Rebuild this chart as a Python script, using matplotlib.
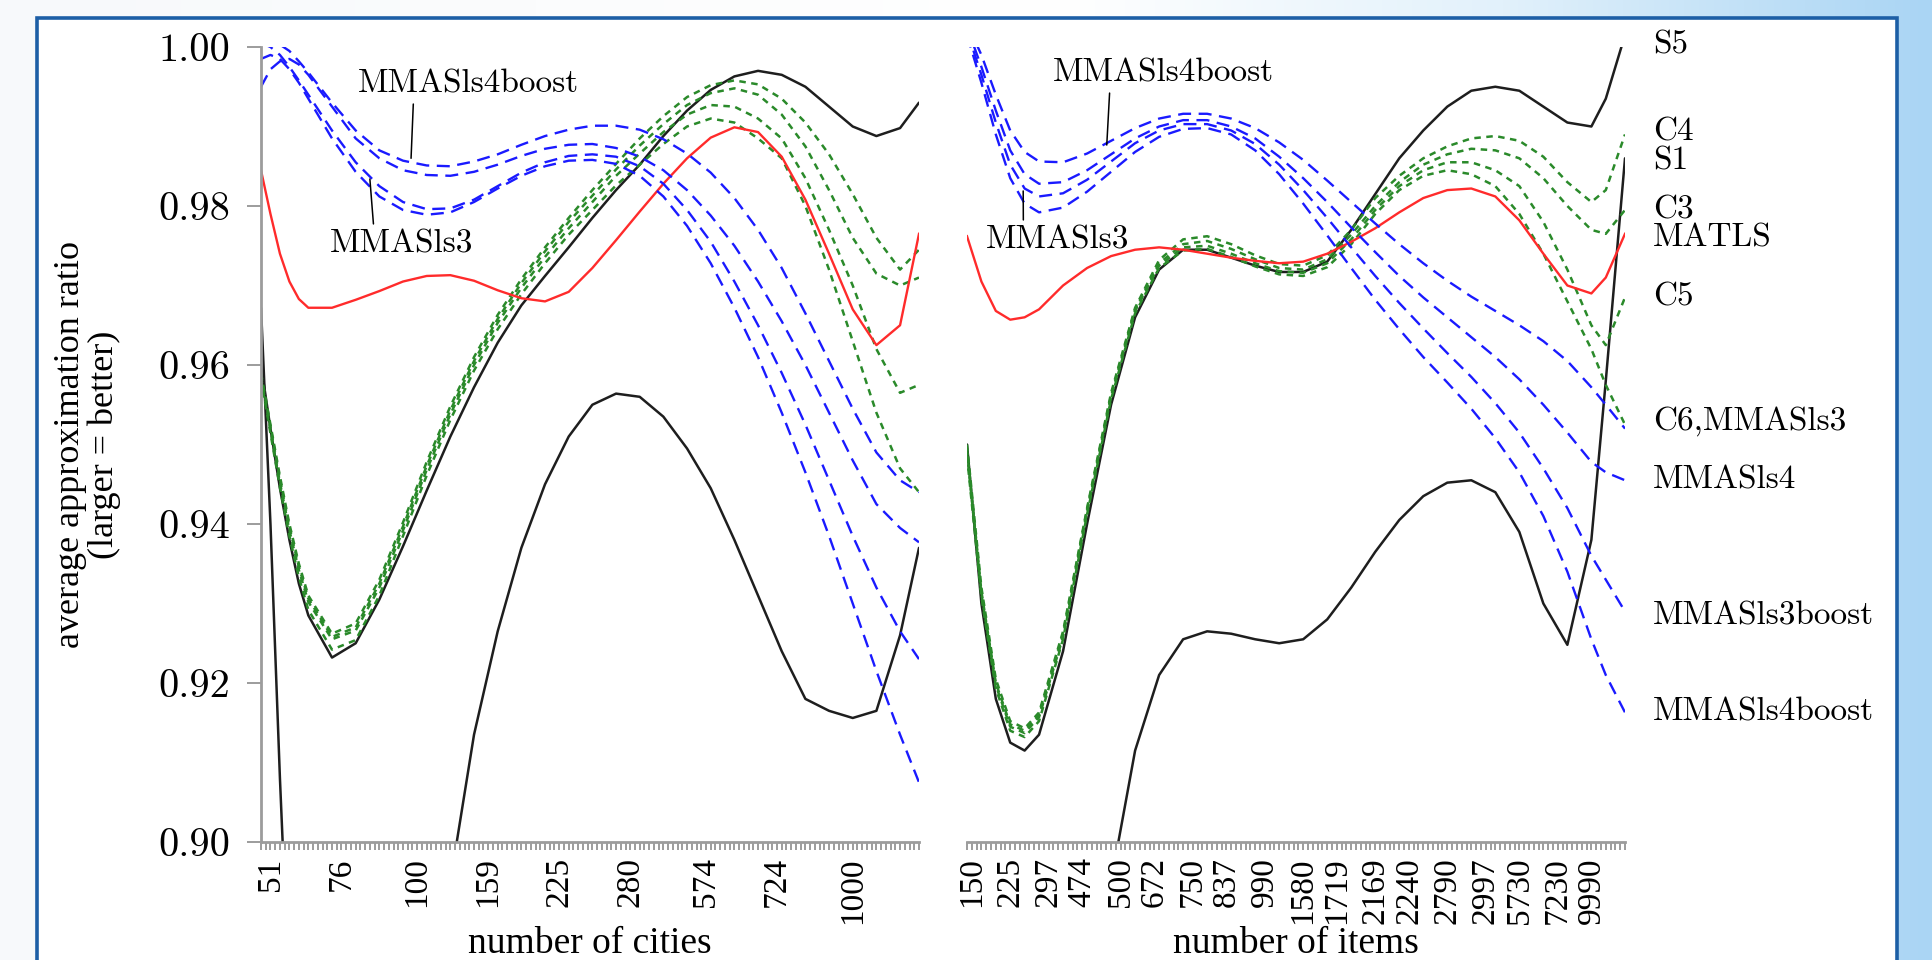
import numpy as np
import matplotlib
matplotlib.use("Agg")
import matplotlib.pyplot as plt
from matplotlib.colors import LinearSegmentedColormap
from matplotlib.patches import Rectangle

# ---------------- data: left panel (TSP, instance index) ----------------
cities_x = [0, 2, 4, 6, 8, 10, 15, 20, 25, 30, 35, 40, 45, 50, 55, 60, 65, 70,
            75, 80, 85, 90, 95, 100, 105, 110, 115, 120, 125, 130, 135, 139]
cities_ticks = [2, 17, 33, 48, 63, 78, 94, 109, 125]
cities_labels = ["51", "76", "100", "159", "225", "280", "574", "724", "1000"]

tsp_S5 = [0.9600, 0.9520, 0.9445, 0.9380, 0.9325, 0.9285, 0.9232, 0.9250, 0.9305,
          0.9372, 0.9442, 0.9510, 0.9572, 0.9628, 0.9675, 0.9712, 0.9748, 0.9785,
          0.9820, 0.9852, 0.9888, 0.9920, 0.9946, 0.9963, 0.9970, 0.9965, 0.9950,
          0.9925, 0.9900, 0.9888, 0.9898, 0.9930]
tsp_S1 = [0.9672, 0.9400, 0.9080, 0.8800, 0.8600, 0.8450, 0.8300, 0.8200, 0.8250,
          0.8450, 0.8700, 0.8950, 0.9135, 0.9265, 0.9370, 0.9450, 0.9510, 0.9550,
          0.9564, 0.9560, 0.9535, 0.9495, 0.9445, 0.9380, 0.9310, 0.9240, 0.9180,
          0.9165, 0.9156, 0.9165, 0.9260, 0.9370]
tsp_C = {
    "C4": [0.9590, 0.9525, 0.9460, 0.9400, 0.9350, 0.9310, 0.9262, 0.9275, 0.9330,
           0.9402, 0.9478, 0.9548, 0.9610, 0.9663, 0.9708, 0.9748, 0.9785, 0.9820,
           0.9853, 0.9885, 0.9913, 0.9937, 0.9952, 0.9958, 0.9953, 0.9935, 0.9905,
           0.9865, 0.9815, 0.9760, 0.9720, 0.9745],
    "C3": [0.9588, 0.9522, 0.9456, 0.9396, 0.9346, 0.9306, 0.9258, 0.9270, 0.9325,
           0.9397, 0.9473, 0.9543, 0.9605, 0.9658, 0.9703, 0.9743, 0.9780, 0.9813,
           0.9846, 0.9876, 0.9903, 0.9927, 0.9942, 0.9948, 0.9940, 0.9915, 0.9875,
           0.9820, 0.9760, 0.9715, 0.9700, 0.9710],
    "C5": [0.9585, 0.9518, 0.9452, 0.9392, 0.9342, 0.9302, 0.9255, 0.9266, 0.9320,
           0.9392, 0.9468, 0.9538, 0.9600, 0.9653, 0.9697, 0.9736, 0.9772, 0.9805,
           0.9838, 0.9866, 0.9893, 0.9915, 0.9927, 0.9925, 0.9910, 0.9885, 0.9835,
           0.9770, 0.9700, 0.9620, 0.9565, 0.9575],
    "C6": [0.9582, 0.9514, 0.9446, 0.9385, 0.9333, 0.9292, 0.9242, 0.9254, 0.9310,
           0.9385, 0.9461, 0.9531, 0.9593, 0.9645, 0.9689, 0.9728, 0.9764, 0.9795,
           0.9826, 0.9852, 0.9878, 0.9900, 0.9910, 0.9905, 0.9885, 0.9860, 0.9800,
           0.9720, 0.9630, 0.9540, 0.9470, 0.9440],
}
tsp_MATLS = [0.9845, 0.9790, 0.9740, 0.9705, 0.9683, 0.9672, 0.9672, 0.9682, 0.9693,
             0.9705, 0.9712, 0.9713, 0.9706, 0.9694, 0.9684, 0.9680, 0.9692, 0.9722,
             0.9757, 0.9793, 0.9828, 0.9860, 0.9886, 0.9899, 0.9893, 0.9862, 0.9808,
             0.9740, 0.9670, 0.9625, 0.9650, 0.9765]
tsp_MMAS = {
    "MMASls3": [1.0005, 1.0008, 1.0003, 0.9995, 0.9982, 0.9968, 0.9930, 0.9895, 0.9870,
                0.9857, 0.9851, 0.9850, 0.9856, 0.9865, 0.9877, 0.9888, 0.9896, 0.9901,
                0.9901, 0.9896, 0.9884, 0.9866, 0.9842, 0.9810, 0.9770, 0.9722, 0.9665,
                0.9605, 0.9545, 0.9490, 0.9455, 0.9440],
    "MMASls4": [0.9950, 0.9972, 0.9982, 0.9985, 0.9978, 0.9965, 0.9925, 0.9885, 0.9860,
                0.9845, 0.9839, 0.9838, 0.9843, 0.9852, 0.9863, 0.9872, 0.9877, 0.9878,
                0.9873, 0.9862, 0.9845, 0.9820, 0.9788, 0.9750, 0.9705, 0.9655, 0.9600,
                0.9540, 0.9480, 0.9425, 0.9395, 0.9377],
    "MMASls3boost": [1.0005, 1.0000, 0.9990, 0.9975, 0.9958, 0.9940, 0.9895, 0.9855, 0.9825,
                     0.9805, 0.9796, 0.9797, 0.9808, 0.9825, 0.9842, 0.9855, 0.9863, 0.9865,
                     0.9862, 0.9850, 0.9828, 0.9795, 0.9755, 0.9705, 0.9650, 0.9590, 0.9525,
                     0.9455, 0.9385, 0.9320, 0.9265, 0.9230],
    "MMASls4boost": [0.9985, 0.9990, 0.9985, 0.9972, 0.9955, 0.9935, 0.9885, 0.9843, 0.9812,
                     0.9795, 0.9789, 0.9792, 0.9805, 0.9822, 0.9838, 0.9850, 0.9857, 0.9858,
                     0.9853, 0.9838, 0.9812, 0.9775, 0.9728, 0.9672, 0.9610, 0.9540, 0.9465,
                     0.9385, 0.9300, 0.9215, 0.9135, 0.9075],
}

# ---------------- data: right panel (knapsack, instance index) ----------------
items_x = [0, 3, 6, 9, 12, 15, 20, 25, 30, 35, 40, 45, 50, 55, 60, 65, 70, 75, 80,
           85, 90, 95, 100, 105, 110, 115, 120, 125, 130, 133, 137]
items_ticks = [1, 9, 17, 24, 32, 39, 47, 54, 62, 70, 77, 85, 92, 100, 108, 115, 123, 130]
items_labels = ["150", "225", "297", "474", "500", "672", "750", "837", "990", "1580",
                "1719", "2169", "2240", "2790", "2997", "5730", "7230", "9990"]

kp_S5 = [0.9500, 0.9300, 0.9180, 0.9125, 0.9115, 0.9135, 0.9240, 0.9400, 0.9550, 0.9660,
         0.9720, 0.9745, 0.9745, 0.9735, 0.9725, 0.9717, 0.9717, 0.9730, 0.9770, 0.9815,
         0.9860, 0.9895, 0.9925, 0.9945, 0.9950, 0.9945, 0.9925, 0.9905, 0.9900, 0.9935,
         1.0015]
kp_S1 = [0.8000, 0.8100, 0.8200, 0.8300, 0.8400, 0.8500, 0.8650, 0.8800, 0.8950, 0.9115,
         0.9210, 0.9255, 0.9265, 0.9262, 0.9255, 0.9250, 0.9255, 0.9280, 0.9320, 0.9365,
         0.9405, 0.9435, 0.9452, 0.9455, 0.9440, 0.9390, 0.9300, 0.9248, 0.9380, 0.9580,
         0.9860]
kp_C = {
    "C4": [0.9500, 0.9320, 0.9205, 0.9152, 0.9143, 0.9163, 0.9265, 0.9420, 0.9565, 0.9672,
           0.9732, 0.9758, 0.9762, 0.9752, 0.9738, 0.9727, 0.9725, 0.9738, 0.9770, 0.9810,
           0.9838, 0.9860, 0.9875, 0.9885, 0.9888, 0.9882, 0.9862, 0.9830, 0.9805, 0.9820,
           0.9890],
    "C3": [0.9495, 0.9315, 0.9200, 0.9148, 0.9140, 0.9160, 0.9262, 0.9418, 0.9562, 0.9670,
           0.9728, 0.9752, 0.9756, 0.9746, 0.9733, 0.9722, 0.9720, 0.9733, 0.9764, 0.9800,
           0.9830, 0.9852, 0.9865, 0.9872, 0.9870, 0.9860, 0.9835, 0.9800, 0.9770, 0.9765,
           0.9795],
    "C5": [0.9490, 0.9312, 0.9197, 0.9145, 0.9137, 0.9157, 0.9258, 0.9415, 0.9560, 0.9668,
           0.9725, 0.9748, 0.9750, 0.9740, 0.9728, 0.9718, 0.9716, 0.9728, 0.9758, 0.9795,
           0.9825, 0.9845, 0.9855, 0.9855, 0.9845, 0.9825, 0.9780, 0.9720, 0.9650, 0.9625,
           0.9685],
    "C6": [0.9485, 0.9308, 0.9193, 0.9140, 0.9132, 0.9152, 0.9255, 0.9412, 0.9557, 0.9665,
           0.9722, 0.9744, 0.9746, 0.9736, 0.9724, 0.9714, 0.9712, 0.9723, 0.9752, 0.9790,
           0.9820, 0.9838, 0.9845, 0.9840, 0.9825, 0.9790, 0.9740, 0.9680, 0.9620, 0.9575,
           0.9525],
}
kp_MATLS = [0.9762, 0.9705, 0.9668, 0.9657, 0.9660, 0.9670, 0.9700, 0.9722, 0.9737, 0.9745,
            0.9748, 0.9745, 0.9740, 0.9735, 0.9731, 0.9728, 0.9730, 0.9740, 0.9755, 0.9772,
            0.9792, 0.9810, 0.9820, 0.9822, 0.9812, 0.9782, 0.9740, 0.9700, 0.9690, 0.9710,
            0.9765]
kp_MMAS = {
    "MMASls3": [1.0030, 0.9990, 0.9940, 0.9895, 0.9868, 0.9856, 0.9855, 0.9866, 0.9882, 0.9898,
                0.9910, 0.9916, 0.9916, 0.9910, 0.9898, 0.9880, 0.9858, 0.9832, 0.9805, 0.9778,
                0.9752, 0.9728, 0.9706, 0.9686, 0.9668, 0.9650, 0.9630, 0.9605, 0.9572, 0.9550,
                0.9520],
    "MMASls4": [1.0025, 0.9975, 0.9920, 0.9870, 0.9840, 0.9828, 0.9830, 0.9845, 0.9865, 0.9885,
                0.9900, 0.9908, 0.9908, 0.9900, 0.9885, 0.9862, 0.9835, 0.9805, 0.9773, 0.9742,
                0.9712, 0.9685, 0.9660, 0.9635, 0.9610, 0.9582, 0.9550, 0.9515, 0.9478, 0.9465,
                0.9455],
    "MMASls3boost": [1.0020, 0.9965, 0.9905, 0.9852, 0.9822, 0.9812, 0.9816, 0.9833, 0.9856, 0.9879,
                     0.9895, 0.9903, 0.9903, 0.9895, 0.9878, 0.9852, 0.9820, 0.9785, 0.9748, 0.9712,
                     0.9678, 0.9646, 0.9615, 0.9585, 0.9552, 0.9515, 0.9470, 0.9420, 0.9360, 0.9330,
                     0.9290],
    "MMASls4boost": [1.0015, 0.9955, 0.9890, 0.9835, 0.9803, 0.9792, 0.9798, 0.9818, 0.9843, 0.9868,
                     0.9887, 0.9897, 0.9898, 0.9890, 0.9870, 0.9840, 0.9803, 0.9763, 0.9722, 0.9682,
                     0.9645, 0.9610, 0.9578, 0.9545, 0.9508, 0.9465, 0.9410, 0.9340, 0.9255, 0.9210,
                     0.9163],
}

# end-of-line labels on the right panel
end_labels = ["S5", "C4", "S1", "C3", "MATLS", "C5", "C6,MMASls3",
              "MMASls4", "MMASls3boost", "MMASls4boost"]
end_label_y = [1.0002, 0.9893, 0.9857, 0.9795, 0.9760, 0.9686, 0.9529,
               0.9455, 0.9284, 0.9164]

yticks = [0.90, 0.92, 0.94, 0.96, 0.98, 1.00]

# ---------------- styles ----------------
GREY = "#9c9c9c"
BLACK = dict(color="#1e1e1e", lw=1.8, solid_capstyle="round")
RED = dict(color="#ff2b2b", lw=1.7)
GREEN = dict(color="#2a8a2a", lw=1.8, ls=(0, (2.6, 2.2)))
BLUE = dict(color="#1a1aff", lw=1.7, ls=(0, (5.5, 3.2)))
SERIF = "Liberation Serif"
CM = "cmr10"

W, H = 1933, 960
fig = plt.figure(figsize=(W / 100, H / 100), dpi=100)

# slide background: white fading to light blue on the right
cmap = LinearSegmentedColormap.from_list(
    "slide", [(0, "#f7f9fb"), (0.55, "#ffffff"), (0.78, "#e2f1fb"), (1.0, "#aad5f4")])
bg = fig.add_axes([0, 0, 1, 1], zorder=-10)
bg.imshow(np.linspace(0, 1, 512)[None, :], aspect="auto", cmap=cmap, extent=[0, 1, 0, 1])
bg.axis("off")
fig.patches.append(Rectangle((37 / W, -0.05), (1897 - 37) / W, 1.05 - 18 / H,
                             transform=fig.transFigure, facecolor="white",
                             edgecolor="#1d5fa6", lw=2.6, zorder=-5))

axL = fig.add_axes([261 / W, 1 - 842 / H, (919 - 261) / W, (842 - 47) / H])
axR = fig.add_axes([967 / W, 1 - 842 / H, (1625 - 967) / W, (842 - 47) / H])

for ax, xs, S1, S5, C, MAT, MM in [
        (axL, cities_x, tsp_S1, tsp_S5, tsp_C, tsp_MATLS, tsp_MMAS),
        (axR, items_x, kp_S1, kp_S5, kp_C, kp_MATLS, kp_MMAS)]:
    ax.set_facecolor("none")
    ax.plot(xs, S1, **BLACK)
    ax.plot(xs, S5, **BLACK)
    for name in ["C6", "C5", "C3", "C4"]:
        ax.plot(xs, C[name], **GREEN)
    ax.plot(xs, MAT, **RED)
    for name in MM:
        ax.plot(xs, MM[name], **BLUE)
    ax.set_ylim(0.90, 1.00)
    ax.set_xlim(xs[0], xs[-1])
    for s in ["top", "right"]:
        ax.spines[s].set_visible(False)
    ax.spines["bottom"].set_color(GREY)
    ax.spines["bottom"].set_linewidth(2.0)
    ax.set_xticks(np.arange(xs[0], xs[-1] + 1), minor=True)
    ax.tick_params(axis="x", which="both", length=6, width=1.4, color=GREY,
                   direction="out", pad=5)

# left panel axes
axL.spines["left"].set_color(GREY)
axL.spines["left"].set_linewidth(2.0)
axL.set_yticks(yticks)
axL.set_yticklabels([f"{v:.2f}" for v in yticks], family=CM, fontsize=29)
axL.tick_params(axis="y", length=10, width=1.4, color=GREY, pad=12)
axL.set_xticks(cities_ticks)
axL.set_xticklabels(cities_labels, rotation=90, family=SERIF, fontsize=24)
axL.set_ylabel("average approximation ratio\n(larger = better)", family=SERIF,
               fontsize=26, linespacing=1.0)
axL.yaxis.set_label_coords(-0.213, 0.5)
axL.set_xlabel("number of cities", family=SERIF, fontsize=27, va="baseline")
axL.xaxis.set_label_coords(0.5, -0.1396)

# right panel axes
axR.spines["left"].set_visible(False)
axR.set_yticks([])
axR.set_xticks(items_ticks)
axR.set_xticklabels(items_labels, rotation=90, family=SERIF, fontsize=24)
axR.set_xlabel("number of items", family=SERIF, fontsize=27, va="baseline")
axR.xaxis.set_label_coords(0.5, -0.1396)

for lab, yv in zip(end_labels, end_label_y):
    axR.text(1.0426, yv, lab, transform=axR.get_yaxis_transform(), family=CM,
             fontsize=24, ha="left", va="center", clip_on=False)

# in-plot callouts
lead = dict(arrowstyle="-", color="black", lw=1.1, shrinkA=2, shrinkB=0)
axL.annotate("MMASls4boost", xy=(31.7, 0.9860), xytext=(43.9, 0.99535),
             family=CM, fontsize=24, ha="center", va="center",
             arrowprops=dict(relpos=(0.25, 0), **lead))
axL.annotate("MMASls3", xy=(23.0, 0.9834), xytext=(29.6, 0.97522),
             family=CM, fontsize=24, ha="center", va="center",
             arrowprops=dict(relpos=(0.31, 1), **lead))
axR.annotate("MMASls4boost", xy=(29.1, 0.98767), xytext=(40.8, 0.99673),
             family=CM, fontsize=24, ha="center", va="center",
             arrowprops=dict(relpos=(0.26, 0), **lead))
axR.annotate("MMASls3", xy=(11.7, 0.98189), xytext=(18.9, 0.97572),
             family=CM, fontsize=24, ha="center", va="center",
             arrowprops=dict(relpos=(0.26, 1), **lead))

fig.savefig("out.png", dpi=100)
